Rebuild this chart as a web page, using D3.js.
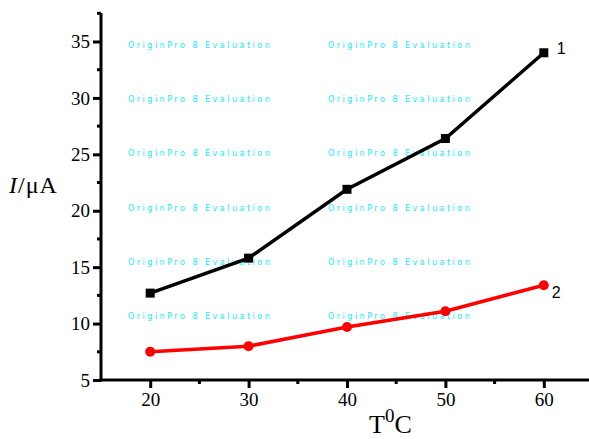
<!DOCTYPE html>
<html>
<head>
<meta charset="utf-8">
<script src="https://cdn.jsdelivr.net/npm/d3@7"></script>
<style>
  body { margin: 0; background: #fff; }
  svg { display: block; }
</style>
</head>
<body>
<div id="chart"></div>
<script>
var temps = [20, 30, 40, 50, 60];
var current1 = [12.7, 15.8, 21.9, 26.4, 34.0];
var current2 = [7.5, 8.0, 9.7, 11.1, 13.4];
var xTicks = [20, 30, 40, 50, 60];
var yTicks = [5, 10, 15, 20, 25, 30, 35];
var watermarkRows = [45, 99, 153, 208, 262, 316];
var watermarkCols = [128, 328];

var width = 589, height = 439;
var plotLeft = 101, plotBottom = 380, plotTop = 13;

var x = d3.scaleLinear().domain([15, 65]).range([plotLeft, 593]);
var y = d3.scaleLinear().domain([5, 35]).range([plotBottom, 41.5]);

var svg = d3.select('#chart').append('svg')
  .attr('width', width)
  .attr('height', height);

// watermark
watermarkRows.forEach(function(r) {
  watermarkCols.forEach(function(c) {
    svg.append('text')
      .attr('x', c)
      .attr('y', r + 3)
      .attr('font-family', 'DejaVu Sans, sans-serif')
      .attr('font-size', 8)
      .attr('letter-spacing', 2.5)
      .attr('fill', '#1ef')
      .text('OriginPro 8 Evaluation');
  });
});

// axes
var serif = '"Liberation Serif", "Times New Roman", serif';

var xAxis = svg.append('g')
  .attr('transform', 'translate(0,' + plotBottom + ')')
  .call(d3.axisBottom(x).tickValues(xTicks).tickSize(8).tickPadding(5).tickSizeOuter(0));
xAxis.select('.domain').attr('stroke-width', 3).attr('d', 'M' + (plotLeft - 1.5) + ',0H' + width);
xAxis.selectAll('.tick line').attr('stroke-width', 3);
xAxis.selectAll('.tick text').style('font-family', serif).style('font-size', '19px').attr('fill', '#000');
xAxis.selectAll('.minor')
  .data([25, 35, 45, 55])
  .enter().append('line')
  .attr('x1', function(d) { return x(d); })
  .attr('x2', function(d) { return x(d); })
  .attr('y1', 0).attr('y2', 4)
  .attr('stroke', '#000').attr('stroke-width', 3);

var yAxis = svg.append('g')
  .attr('transform', 'translate(' + plotLeft + ',0)')
  .call(d3.axisLeft(y).tickValues(yTicks).tickSize(8).tickPadding(3).tickSizeOuter(0));
yAxis.select('.domain').attr('stroke-width', 3).attr('d', 'M0,' + plotTop + 'V' + (plotBottom + 1.5));
yAxis.selectAll('.tick line').attr('stroke-width', 3);
yAxis.selectAll('.tick text').style('font-family', serif).style('font-size', '19px').attr('fill', '#000');
yAxis.selectAll('.minor')
  .data([7.5, 12.5, 17.5, 22.5, 27.5, 32.5, 37.5])
  .enter().append('line')
  .attr('y1', function(d) { return y(d); })
  .attr('y2', function(d) { return y(d); })
  .attr('x1', 0).attr('x2', -4)
  .attr('stroke', '#000').attr('stroke-width', 3);

// axis titles
var yTitle = svg.append('text')
  .attr('x', 9).attr('y', 193)
  .style('font-family', serif).style('font-size', '24px')
  .attr('letter-spacing', 1);
yTitle.append('tspan').attr('font-style', 'italic').text('I');
yTitle.append('tspan').text('/\u03bcA');

var xTitle = svg.append('text')
  .attr('x', 369).attr('y', 433)
  .style('font-family', serif).style('font-size', '26px');
xTitle.append('tspan').text('T');
xTitle.append('tspan').style('font-size', '19px').attr('dy', -11).text('0');
xTitle.append('tspan').attr('dy', 11).text('C');

// series
var line = d3.line()
  .x(function(d) { return x(d[0]); })
  .y(function(d) { return y(d[1]); });

var s1 = d3.zip(temps, current1);
var s2 = d3.zip(temps, current2);

svg.append('path').datum(s1)
  .attr('d', line).attr('fill', 'none')
  .attr('stroke', '#000').attr('stroke-width', 3.5);
svg.selectAll('.sq').data(s1).enter().append('rect')
  .attr('x', function(d) { return x(d[0]) - 4.5; })
  .attr('y', function(d) { return y(d[1]) - 4.5; })
  .attr('width', 9).attr('height', 9)
  .attr('fill', '#000');

svg.append('path').datum(s2)
  .attr('d', line).attr('fill', 'none')
  .attr('stroke', '#f00').attr('stroke-width', 3.5);
svg.selectAll('.dot').data(s2).enter().append('circle')
  .attr('cx', function(d) { return x(d[0]); })
  .attr('cy', function(d) { return y(d[1]); })
  .attr('r', 5)
  .attr('fill', '#f00');

// series labels
svg.append('text')
  .attr('x', x(60) + 13).attr('y', y(current1[4]) + 1)
  .style('font-family', '"Liberation Sans", Arial, sans-serif').style('font-size', '16px')
  .text('1');
svg.append('text')
  .attr('x', x(60) + 8).attr('y', y(current2[4]) + 13)
  .style('font-family', '"Liberation Sans", Arial, sans-serif').style('font-size', '16px')
  .text('2');
</script>
</body>
</html>
